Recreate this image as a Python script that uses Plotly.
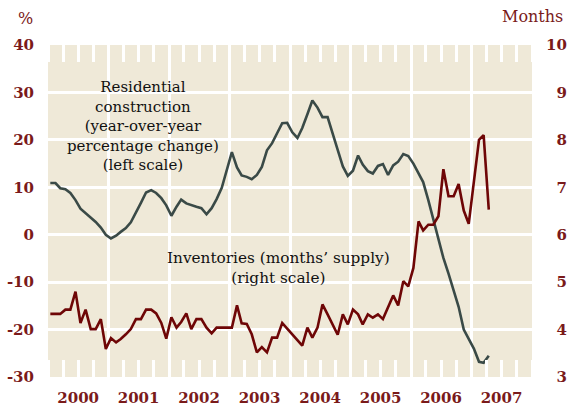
import plotly.graph_objects as go

# ---------------- data ----------------
start_year = 2000
n_months = 88  # Jan 2000 .. Apr 2007
months = [f"{start_year + i // 12}-{i % 12 + 1:02d}-15" for i in range(n_months)]

residential = [
    10.9, 10.9, 9.8, 9.6, 8.8, 7.3, 5.5, 4.5, 3.7, 2.7, 1.5, 0.0,
    -0.8, -0.2, 0.6, 1.4, 2.6, 4.6, 6.7, 8.9, 9.4, 8.8, 7.7, 6.2,
    4.0, 5.9, 7.4, 6.6, 6.2, 5.9, 5.6, 4.3, 5.6, 7.5, 9.9, 13.5,
    17.4, 14.2, 12.5, 12.2, 11.7, 12.6, 14.3, 17.8, 19.3, 21.4, 23.5, 23.6,
    21.6, 20.4, 22.5, 25.4, 28.3, 26.8, 24.8, 24.8, 21.5, 17.9, 14.4, 12.4,
    13.5, 16.7, 14.8, 13.4, 12.9, 14.5, 14.9, 12.6, 14.6, 15.4, 17.0, 16.6,
    15.0, 13.0, 11.1, 7.3, 3.2, -1.1, -4.9, -8.2, -11.7, -15.2, -20.0, -21.9,
    -24.0, -26.8, -27.0, -25.5,
]

inventories = [
    4.33, 4.33, 4.33, 4.42, 4.42, 4.80, 4.14, 4.42, 4.01, 4.01, 4.22, 3.59,
    3.82, 3.73, 3.80, 3.90, 4.01, 4.22, 4.22, 4.42, 4.42, 4.34, 4.14, 3.81,
    4.26, 4.04, 4.16, 4.34, 4.01, 4.22, 4.22, 4.04, 3.92, 4.04, 4.04, 4.04,
    4.04, 4.51, 4.13, 4.12, 3.90, 3.52, 3.63, 3.52, 3.83, 3.83, 4.14, 4.02,
    3.90, 3.78, 3.66, 4.04, 3.83, 4.04, 4.53, 4.32, 4.11, 3.89, 4.32, 4.11,
    4.42, 4.32, 4.11, 4.32, 4.25, 4.32, 4.22, 4.49, 4.72, 4.51, 5.02, 4.91,
    5.30, 6.28, 6.09, 6.21, 6.21, 6.39, 7.38, 6.81, 6.81, 7.07, 6.51, 6.23,
    7.16, 8.00, 8.10, 6.53,
]

year_labels = ["2000", "2001", "2002", "2003", "2004", "2005", "2006", "2007"]
left_ticks = [40, 30, 20, 10, 0, -10, -20, -30]
right_ticks = [10, 9, 8, 7, 6, 5, 4, 3]

# ---------------- style ----------------
BG = "#efe9d8"
RED_TXT = "#7a1a1a"
RES_COL = "#3a4a47"
INV_COL = "#6e0606"
FONT = "DejaVu Serif"
TICKFONT = dict(family=FONT, size=15, color=RED_TXT, weight="bold")

year_mid = [f"{y}-07-01" for y in year_labels]
year_start = [f"{y}-01-01" for y in year_labels] + ["2008-01-01"]
quarters = [f"{y}-{m:02d}-01" for y in year_labels for m in (1, 4, 7, 10)] + ["2008-01-01"]

fig = go.Figure()
fig.add_trace(go.Scatter(
    x=months, y=residential, mode="lines",
    line=dict(color=RES_COL, width=2.6), xaxis="x", yaxis="y",
    showlegend=False, hoverinfo="skip"))
fig.add_trace(go.Scatter(
    x=months, y=inventories, mode="lines",
    line=dict(color=INV_COL, width=2.6), xaxis="x2", yaxis="y2",
    showlegend=False, hoverinfo="skip"))

xrange = ["2000-01-01", "2008-01-01"]

fig.update_layout(
    width=567, height=412,
    margin=dict(l=48, r=35, t=45, b=35, autoexpand=False),
    paper_bgcolor="white", plot_bgcolor=BG,
    font=dict(family=FONT, color=RED_TXT, size=16),
    xaxis=dict(
        type="date", range=xrange, automargin=False,
        tickmode="array", tickvals=year_mid, ticktext=year_labels,
        ticks="", showgrid=False, zeroline=False, showline=False,
        tickfont=TICKFONT,
        ticklabelstandoff=10,
        minor=dict(tickmode="array", tickvals=quarters, ticks="inside",
                   ticklen=17, tickwidth=3, tickcolor="white", showgrid=False),
    ),
    xaxis2=dict(
        type="date", range=xrange, overlaying="x", side="top", anchor="y",
        automargin=False,
        tickmode="array", tickvals=year_start, showticklabels=False,
        ticks="", showgrid=True, gridcolor="white", gridwidth=3,
        zeroline=False, showline=False,
        minor=dict(tickmode="array", tickvals=quarters, ticks="inside",
                   ticklen=17, tickwidth=3, tickcolor="white", showgrid=False),
    ),
    yaxis=dict(
        range=[-30, 40], tickmode="array", tickvals=left_ticks, automargin=False,
        ticktext=[str(v) for v in left_ticks],
        showgrid=True, gridcolor="white", gridwidth=3,
        zeroline=False, showline=False, ticks="",
        tickfont=TICKFONT,
        ticklabelstandoff=13,
    ),
    yaxis2=dict(
        range=[3, 10], overlaying="y", side="right", anchor="x", automargin=False,
        tickmode="array", tickvals=right_ticks,
        ticktext=[("\u2007" + str(v)) if v < 10 else str(v) for v in right_ticks],
        showgrid=False, zeroline=False, showline=False, ticks="",
        tickfont=TICKFONT,
        ticklabelstandoff=13,
    ),
)

fig.add_annotation(
    text="Residential<br>construction<br>(year-over-year<br>percentage change)<br>(left scale)",
    xref="paper", yref="paper", x=0.196, y=0.7575, xanchor="center", yanchor="middle",
    showarrow=False, align="center", font=dict(family=FONT, size=15, color="#111111"))
fig.add_annotation(
    text="Inventories (months\u2019 supply)<br>(right scale)",
    xref="paper", yref="paper", x=0.477, y=0.327, xanchor="center", yanchor="middle",
    showarrow=False, align="center", font=dict(family=FONT, size=15.3, color="#111111"))
fig.add_annotation(
    text="%", xref="paper", yref="paper", x=-0.0475, y=1.081,
    xanchor="center", yanchor="middle", showarrow=False,
    font=dict(family=FONT, size=16, color=RED_TXT))
fig.add_annotation(
    text="Months", xref="paper", yref="paper", x=1.002, y=1.087,
    xanchor="center", yanchor="middle", showarrow=False,
    font=dict(family=FONT, size=16, color=RED_TXT))

# remove the default page margin so the 567x412 figure fills the window exactly
fig.write_html("out.html", config={"displayModeBar": False},
               post_script="document.body.style.margin='0';")
